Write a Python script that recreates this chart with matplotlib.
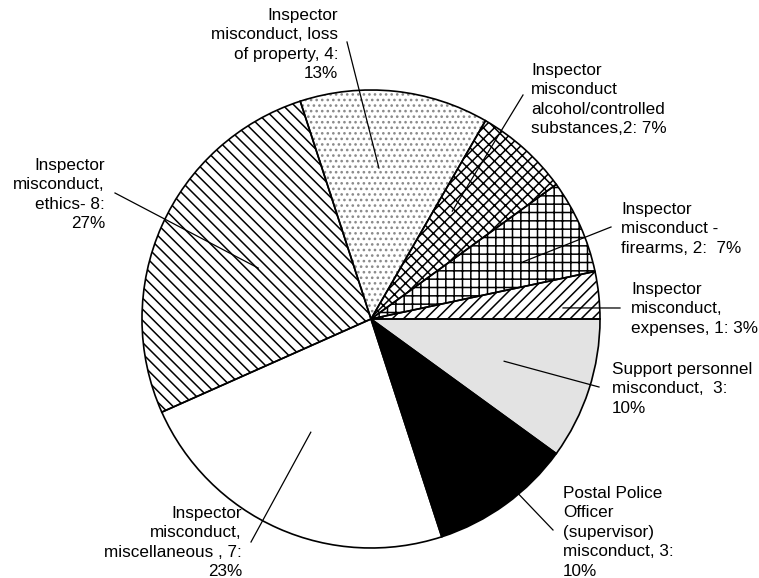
import numpy as np
import matplotlib.pyplot as plt

plt.rcParams['font.family'] = ['Liberation Sans', 'DejaVu Sans']
plt.rcParams['hatch.linewidth'] = 1.1

W, H = 759, 578

# ---------------------- Data ----------------------
# slices in drawing order, counter-clockwise from 3 o'clock
slice_labels = [
    "Inspector\nmisconduct,\nexpenses, 1: 3%",
    "Inspector\nmisconduct -\nfirearms, 2:  7%",
    "Inspector\nmisconduct\nalcohol/controlled\nsubstances,2: 7%",
    "Inspector\nmisconduct, loss\nof property, 4:\n13%",
    "Inspector\nmisconduct,\nethics- 8:\n27%",
    "Inspector\nmisconduct,\nmiscellaneous , 7:\n23%",
    "Postal Police\nOfficer\n(supervisor)\nmisconduct, 3:\n10%",
    "Support personnel\nmisconduct,  3:\n10%",
]
counts = [1, 2, 2, 4, 8, 7, 3, 3]

# ---------------------- Styles / layout ----------------------
face_colors = ['white', 'white', 'white', 'white', 'white', 'white', 'black', '#e3e3e3']
hatches = ['///', '++', 'xxx', '...', '\\\\\\', None, None, None]
hatch_colors = ['black', 'black', 'black', '#8a8a8a', 'black', 'black', 'black', 'black']

# label anchor (pixel x, pixel y of first-line centre), alignment
label_pos = [(631, 288), (621, 208), (531, 69), (338, 14),
             (105, 164), (242, 512), (563, 492), (612, 368)]
label_ha = ['left', 'left', 'left', 'right', 'right', 'right', 'left', 'left']

# leader lines: inner end (angle deg, fraction of radius), outer end in pixels
leader_inner = [(3.3, 0.84), (20.6, 0.71), (53, 0.59), (87, 0.66),
                (155.7, 0.54), (242, 0.56), (-50, 0.96), (-17.6, 0.61)]
leader_outer = [(620, 308), (611, 227), (523, 95), (347, 42),
                (115, 193), (251, 542), (553, 530), (599, 387)]

center_px = (371, 319)
radius = 229

# ---------------------- Plot ----------------------
fig = plt.figure(figsize=(W / 100, H / 100), dpi=100)
ax = fig.add_axes([0, 0, 1, 1])

cx, cy = center_px[0], H - center_px[1]

wedges, _ = ax.pie(counts, startangle=0, counterclock=True, radius=radius,
                   center=(cx, cy), colors=face_colors, frame=True,
                   wedgeprops=dict(linewidth=0))
for w, h, hc in zip(wedges, hatches, hatch_colors):
    if h:
        w.set_hatch(h)
        w.set_edgecolor(hc)

# outlines on top
ax.pie(counts, startangle=0, counterclock=True, radius=radius,
       center=(cx, cy), frame=True,
       wedgeprops=dict(facecolor='none', edgecolor='black', linewidth=1.2))
ax.set_xlim(0, W)
ax.set_ylim(0, H)
ax.set_aspect('equal')
ax.axis('off')

for i, text in enumerate(slice_labels):
    ang, frac = leader_inner[i]
    x0 = cx + radius * frac * np.cos(np.radians(ang))
    y0 = cy + radius * frac * np.sin(np.radians(ang))
    x1, y1 = leader_outer[i][0], H - leader_outer[i][1]
    ax.plot([x0, x1], [y0, y1], color='black', linewidth=0.9, zorder=5)

    lx, ly = label_pos[i]
    ax.text(lx, H - ly + 6, text, ha=label_ha[i], va='top',
            multialignment=label_ha[i], fontsize=12.3, linespacing=1.37)

fig.savefig('out.png', dpi=100, facecolor='white')
